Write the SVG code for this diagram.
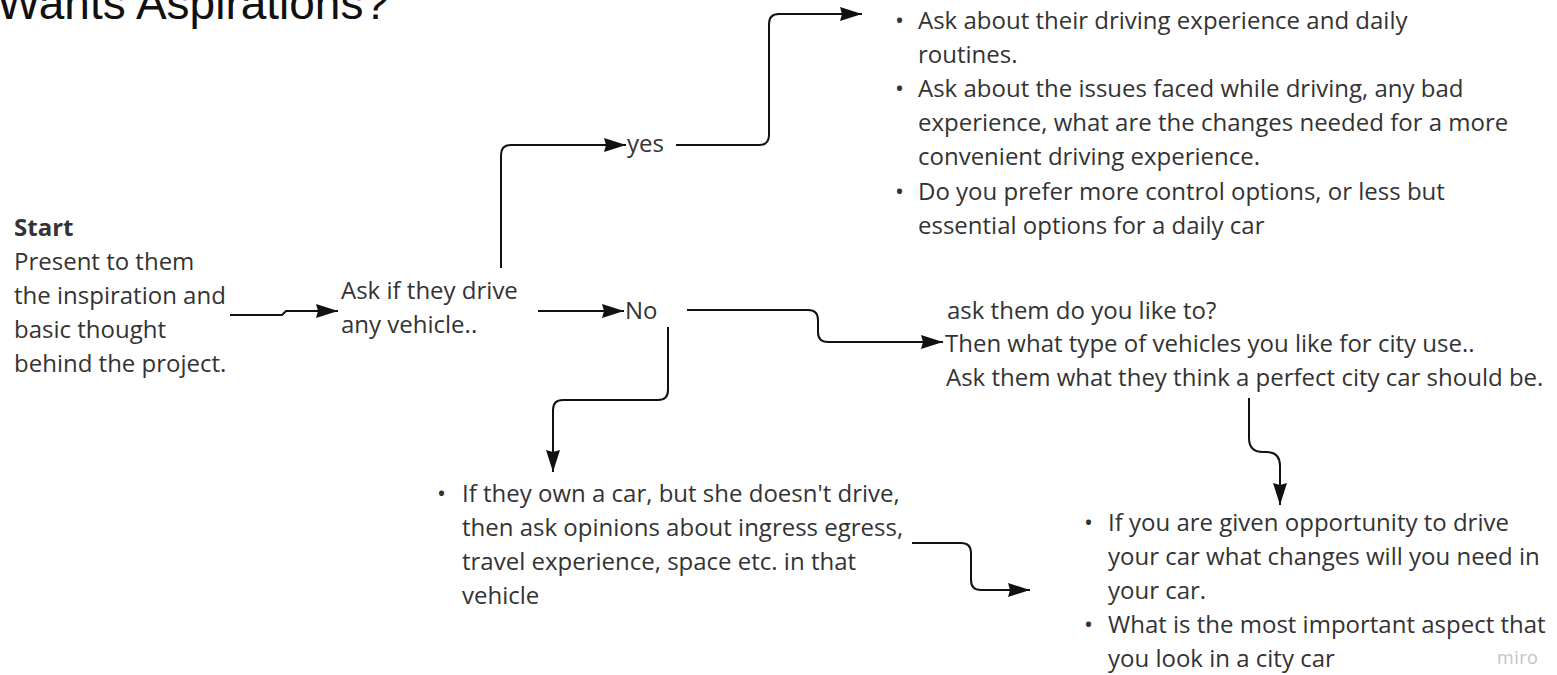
<svg xmlns="http://www.w3.org/2000/svg" width="1557" height="675" viewBox="0 0 1557 675">
  <style>
    .t { font-family: "Open Sans", "Noto Sans", sans-serif; font-size: 24px; fill: #333333; }
    .b { font-weight: bold; }
    .title { font-family: "Liberation Sans", Arial, sans-serif; font-size: 46px; fill: #111111; }
    .wm { font-family: "Open Sans", sans-serif; font-size: 18px; fill: #c3c3cc; letter-spacing: 0.5px; }
    .c { fill: none; stroke: #111111; stroke-width: 2; marker-end: url(#ah); }
  </style>
  <defs>
    <marker id="ah" markerUnits="userSpaceOnUse" markerWidth="24" markerHeight="16" refX="22" refY="7" orient="auto">
      <path d="M0,0 L22,7 L0,14 L2,7 z" fill="#111111"/>
    </marker>
  </defs>
  <rect width="1557" height="675" fill="#ffffff"/>

  <text class="title" x="-3" y="19">Wants Aspirations?</text>

  <g id="connectors">
    <path class="c" d="M230,315 H282 L286,311 H338"/>
    <path class="c" d="M501,268 V155 Q501,145 511,145 H626"/>
    <path class="c" d="M676,145 H759 Q769,145 769,135 V24 Q769,14 779,14 H862"/>
    <path class="c" d="M538,311 H624"/>
    <path class="c" d="M687,310 H808 Q818,310 818,320 V332 Q818,342 828,342 H943"/>
    <path class="c" d="M668,327 V390 Q668,400 658,400 H563 Q553,400 553,410 V472"/>
    <path class="c" d="M912,543 H961 Q971,543 971,553 V580 Q971,590 981,590 H1030"/>
    <path class="c" d="M1249,398 V438 Q1249,452 1263,452 H1266 Q1280,452 1280,466 V505"/>
  </g>

  <g id="start">
    <text class="t b" x="14" y="236">Start</text>
    <text class="t" x="14" y="270">Present to them</text>
    <text class="t" x="14" y="304">the inspiration and</text>
    <text class="t" x="14" y="338">basic thought</text>
    <text class="t" x="14" y="372">behind the project.</text>
  </g>

  <g id="ask-drive">
    <text class="t" x="341" y="299">Ask if they drive</text>
    <text class="t" x="341" y="333">any vehicle..</text>
  </g>

  <g id="yes">
    <text class="t" x="627" y="152">yes</text>
  </g>

  <g id="no">
    <text class="t" x="625" y="319">No</text>
  </g>

  <g id="driver-questions">
    <text class="t" x="895" y="29">•</text>
    <text class="t" x="918" y="29">Ask about their driving experience and daily</text>
    <text class="t" x="918" y="63">routines.</text>
    <text class="t" x="895" y="97">•</text>
    <text class="t" x="918" y="97">Ask about the issues faced while driving, any bad</text>
    <text class="t" x="918" y="131">experience, what are the changes needed for a more</text>
    <text class="t" x="918" y="165">convenient driving experience.</text>
    <text class="t" x="895" y="200">•</text>
    <text class="t" x="918" y="200">Do you prefer more control options, or less but</text>
    <text class="t" x="918" y="234">essential options for a daily car</text>
  </g>

  <g id="city-preferences">
    <text class="t" x="947" y="319">ask them do you like to?</text>
    <text class="t" x="945" y="352">Then what type of vehicles you like for city use..</text>
    <text class="t" x="946" y="386">Ask them what they think a perfect city car should be.</text>
  </g>

  <g id="non-driver-owner">
    <text class="t" x="437" y="502">•</text>
    <text class="t" x="462" y="502">If they own a car, but she doesn't drive,</text>
    <text class="t" x="462" y="536">then ask opinions about ingress egress,</text>
    <text class="t" x="462" y="570">travel experience, space etc. in that</text>
    <text class="t" x="462" y="604">vehicle</text>
  </g>

  <g id="drive-opportunity">
    <text class="t" x="1084" y="531">•</text>
    <text class="t" x="1108" y="531">If you are given opportunity to drive</text>
    <text class="t" x="1108" y="565">your car what changes will you need in</text>
    <text class="t" x="1108" y="599">your car.</text>
    <text class="t" x="1084" y="633">•</text>
    <text class="t" x="1108" y="633">What is the most important aspect that</text>
    <text class="t" x="1108" y="667">you look in a city car</text>
  </g>

  <text class="wm" x="1497" y="664">miro</text>
</svg>
